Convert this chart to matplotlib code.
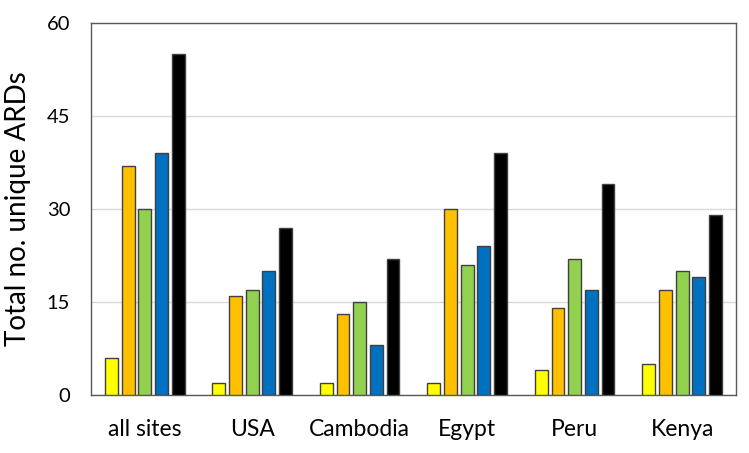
import matplotlib.pyplot as plt
import numpy as np

sites = ['all sites', 'USA', 'Cambodia', 'Egypt', 'Peru', 'Kenya']
s1 = [6, 2, 2, 2, 4, 5]
s2 = [37, 16, 13, 30, 14, 17]
s3 = [30, 17, 15, 21, 22, 20]
s4 = [39, 20, 8, 24, 17, 19]
s5 = [55, 27, 22, 39, 34, 29]
series = [s1, s2, s3, s4, s5]
colors = ['#FFFF00', '#FFC000', '#92D050', '#0070C0', '#000000']

plt.rcParams['font.family'] = ['Lato', 'DejaVu Sans']

fig = plt.figure(figsize=(7.49, 4.53), dpi=100)
ax = fig.add_axes([0.1215, 0.128, 0.861, 0.821])

x = np.arange(len(sites))
step = 0.155
width = 0.12
for i, (vals, c) in enumerate(zip(series, colors)):
    ax.bar(x + (i - 2) * step, vals, width=width, color=c,
           edgecolor='#404040', linewidth=1, zorder=3)

ax.set_xlim(-0.5, 5.5)
ax.set_ylim(0, 60)
ax.set_yticks([0, 15, 30, 45, 60])
ax.set_xticks(x)
ax.set_xticklabels(sites)
ax.tick_params(axis='both', length=0, colors='black')
ax.tick_params(axis='x', pad=17, labelsize=16.5)
ax.tick_params(axis='y', pad=15, labelsize=14.5)
ax.grid(axis='y', color='#D9D9D9', linewidth=1, zorder=0)
for sp in ax.spines.values():
    sp.set_color('#595959')
    sp.set_linewidth(1)
ax.set_ylabel('Total no. unique ARDs', fontsize=20)
ax.yaxis.set_label_coords(-0.093, 0.5)

fig.savefig('out.png', dpi=100)
